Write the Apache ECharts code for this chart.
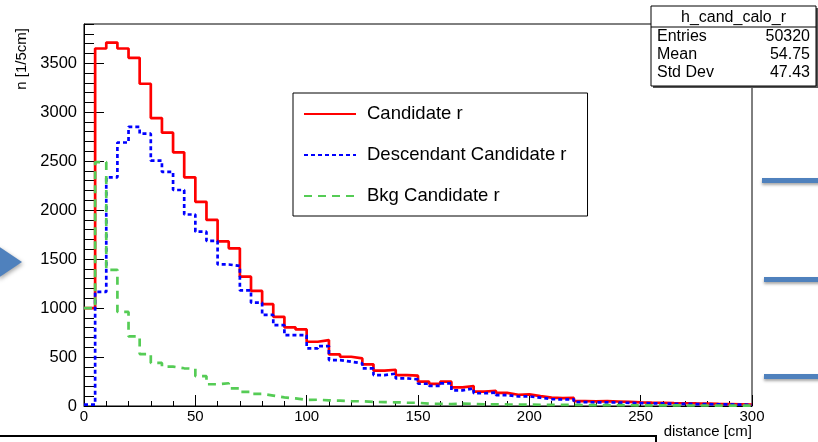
<!DOCTYPE html>
<html>
<head>
<meta charset="utf-8">
<script src="https://cdn.jsdelivr.net/npm/echarts@6/dist/echarts.min.js"></script>
<style>
  html, body { margin: 0; padding: 0; background: #ffffff; }
  #chart { width: 818px; height: 442px; }
</style>
</head>
<body>
<div id="chart"></div>
<script>
// Histogram binning: 60 bins of 5 cm from 0 to 300 cm
const binWidth = 5;
const xMin = 0;
const xMax = 300;
const yMax = 3900;

// Entries per 5 cm bin
const candidateR = [
  1000, 3650, 3710, 3650, 3555, 3290, 2940, 2790, 2590, 2335,
  2085, 1900, 1680, 1610, 1320, 1175, 1040, 910, 803, 782,
  656, 673, 527, 503, 486, 425, 362, 370, 316, 310,
  248, 226, 248, 190, 204, 146, 156, 134, 115, 118,
  100, 85, 80, 82, 50, 48, 50, 46, 42, 38,
  35, 33, 30, 28, 26, 25, 22, 20, 18, 15
];
const descendantR = [
  15, 1165, 2335, 2690, 2850, 2780, 2505, 2390, 2205, 1955,
  1780, 1685, 1445, 1430, 1180, 1055, 930, 826, 724, 722,
  588, 612, 469, 452, 435, 384, 316, 330, 282, 272,
  227, 205, 231, 160, 180, 130, 138, 112, 97, 98,
  85, 70, 66, 68, 40, 36, 38, 35, 32, 30,
  28, 26, 23, 22, 20, 19, 17, 16, 14, 12
];
const bkgR = [
  1000, 2490, 1390, 960, 710, 530, 440, 402, 385, 380,
  305, 222, 232, 180, 145, 124, 106, 88, 78, 62,
  64, 58, 55, 50, 48, 42, 40, 38, 34, 33,
  24, 22, 20, 25, 22, 17, 18, 16, 15, 14,
  13, 12, 11, 11, 10, 9, 9, 8, 8, 7,
  7, 6, 6, 5, 5, 5, 4, 4, 3, 3
];

const seriesNames = ['Candidate r', 'Descendant Candidate r', 'Bkg Candidate r'];

// Statistics box contents
const statsTitle = 'h_cand_calo_r';
const statsNames = ['Entries', 'Mean', 'Std Dev'];
const statsValues = ['50320', '54.75', '47.43'];

const plotTitle = 'Candidate r';
const xTitle = 'distance [cm]';
const yTitle = 'n [1/5cm]';

const FONT = '"Liberation Sans", Arial, Helvetica, sans-serif';

// Step outline points: each bin starts at its low edge; close the last bin at xMax
function stepPoints(values) {
  const pts = values.map((v, i) => [xMin + i * binWidth, v]);
  pts.push([xMin + values.length * binWidth, values[values.length - 1]]);
  return pts;
}

function histSeries(name, values, color, dash) {
  return {
    name: name,
    type: 'line',
    step: 'end',
    xAxisIndex: 0,
    yAxisIndex: 0,
    data: stepPoints(values),
    symbol: 'none',
    showSymbol: false,
    lineStyle: { color: color, width: 2.7, type: dash },
    itemStyle: { color: color },
    emphasis: { disabled: true },
    animation: false,
    z: 3
  };
}

// Statistics box drawn over the frame corner
const statsLeft = 651, statsTop = 6, statsW = 165, statsH = 80, statsHead = 21;
const statsElements = [
  { type: 'rect', shape: { x: statsLeft + 2, y: statsTop + 2, width: statsW, height: statsH },
    style: { fill: '#555555' }, z: 100 },
  { type: 'rect', shape: { x: statsLeft, y: statsTop, width: statsW, height: statsH },
    style: { fill: '#ffffff', stroke: '#000000', lineWidth: 1 }, z: 101 },
  { type: 'line', shape: { x1: statsLeft, y1: statsTop + statsHead, x2: statsLeft + statsW, y2: statsTop + statsHead },
    style: { stroke: '#000000', lineWidth: 1 }, z: 102 },
  { type: 'text', x: statsLeft + statsW / 2, y: statsTop + statsHead / 2 + 1, z: 102,
    style: { text: statsTitle, font: '16px ' + FONT, fill: '#000', align: 'center', verticalAlign: 'middle' } }
];
statsNames.forEach((n, i) => {
  const cy = statsTop + statsHead + 10 + i * 18;
  statsElements.push({ type: 'text', x: statsLeft + 6, y: cy, z: 102,
    style: { text: n, font: '16px ' + FONT, fill: '#000', align: 'left', verticalAlign: 'middle' } });
  statsElements.push({ type: 'text', x: statsLeft + statsW - 6, y: cy, z: 102,
    style: { text: statsValues[i], font: '16px ' + FONT, fill: '#000', align: 'right', verticalAlign: 'middle' } });
});

// Surrounding page furniture: arrow, bullet bars, rule line
const slideBlue = '#4f81bd';
const decorations = [
  { type: 'polygon', shape: { points: [[-2, 246], [22, 262], [-2, 278]] },
    style: { fill: slideBlue, shadowBlur: 4, shadowColor: 'rgba(0,0,0,0.35)', shadowOffsetX: 1, shadowOffsetY: 2 }, z: 50 },
  { type: 'rect', shape: { x: 762, y: 178, width: 60, height: 5 },
    style: { fill: slideBlue, shadowBlur: 3, shadowColor: 'rgba(0,0,0,0.35)', shadowOffsetY: 2 }, z: 50 },
  { type: 'rect', shape: { x: 764, y: 277, width: 60, height: 5 },
    style: { fill: slideBlue, shadowBlur: 3, shadowColor: 'rgba(0,0,0,0.35)', shadowOffsetY: 2 }, z: 50 },
  { type: 'rect', shape: { x: 764, y: 374, width: 60, height: 5 },
    style: { fill: slideBlue, shadowBlur: 3, shadowColor: 'rgba(0,0,0,0.35)', shadowOffsetY: 2 }, z: 50 },
  { type: 'polyline', shape: { points: [[0, 436], [656, 436], [656, 444]] },
    style: { stroke: '#000000', lineWidth: 2, fill: null }, z: 50 },
  // vertical axis title, reading upwards and ending at the top of the frame
  { type: 'text', x: 22, y: 28, rotation: Math.PI / 2, z: 20,
    style: { text: yTitle, font: '15px ' + FONT, fill: '#000', align: 'right', verticalAlign: 'middle' } },
  // horizontal axis title, right-aligned under the axis end
  { type: 'text', x: 752, y: 432, z: 20,
    style: { text: xTitle, font: '15px ' + FONT, fill: '#000', align: 'right', verticalAlign: 'middle' } },
  // plot title, mostly above the visible area
  { type: 'text', x: 372, y: -5, z: 20,
    style: { text: plotTitle, font: '17px ' + FONT, fill: '#777', align: 'center', verticalAlign: 'middle' } }
];

const chart = echarts.init(document.getElementById('chart'), null, { renderer: 'canvas' });

const option = {
  animation: false,
  backgroundColor: '#ffffff',
  grid: {
    left: 84, right: 66, top: 24, bottom: 36,
    show: true, borderColor: '#000000', borderWidth: 1, backgroundColor: '#ffffff',
    containLabel: false
  },
  xAxis: [{
    type: 'value', min: xMin, max: xMax, interval: 50,
    axisLine: { show: true, lineStyle: { color: '#000', width: 1 } },
    axisTick: { show: true, inside: true, length: 11, lineStyle: { color: '#000', width: 1 } },
    minorTick: { show: true, splitNumber: 5, length: 5, lineStyle: { color: '#000', width: 1 } },
    splitLine: { show: false },
    axisLabel: { show: true, margin: 3, fontSize: 15, fontFamily: FONT, color: '#000',
      formatter: v => String(v) }
  }],
  yAxis: [{
    type: 'value', min: 0, max: yMax, interval: 500, position: 'left',
    axisLine: { show: true, lineStyle: { color: '#000', width: 1 } },
    axisTick: { show: true, inside: true, length: 20, lineStyle: { color: '#000', width: 1 } },
    splitLine: { show: false },
    axisLabel: { show: true, margin: 7, fontSize: 16.5, fontFamily: FONT, color: '#000',
      showMaxLabel: false, formatter: v => String(v) }
  }, {
    type: 'value', min: 0, max: yMax, interval: 100, position: 'left', offset: 0,
    axisLine: { show: false },
    axisTick: { show: true, inside: true, length: 10, lineStyle: { color: '#000', width: 1 } },
    splitLine: { show: false },
    axisLabel: { show: false }
  }],
  legend: {
    data: seriesNames,
    orient: 'vertical',
    left: 293, top: 93,
    padding: [10, 21, 9, 10],
    itemGap: 19,
    itemWidth: 52,
    itemHeight: 14,
    borderColor: '#000000', borderWidth: 1,
    backgroundColor: '#ffffff',
    selectedMode: false,
    itemStyle: { color: 'transparent', borderWidth: 0, opacity: 0 },
    textStyle: { fontSize: 18.5, fontFamily: FONT, color: '#000', lineHeight: 22, padding: [0, 0, 0, 6] },
    z: 10
  },
  series: [
    histSeries(seriesNames[0], candidateR, '#ff0000', 'solid'),
    histSeries(seriesNames[1], descendantR, '#0000ff', [4, 3]),
    histSeries(seriesNames[2], bkgR, '#55cc55', [8, 6])
  ],
  graphic: { elements: statsElements.concat(decorations) }
};

chart.setOption(option);
</script>
</body>
</html>
